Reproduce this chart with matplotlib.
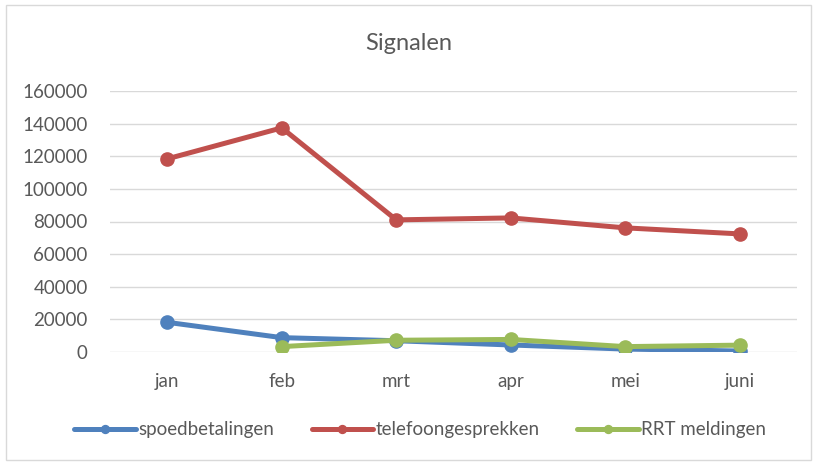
import matplotlib.pyplot as plt
import numpy as np
from matplotlib.patches import Rectangle

months = ["jan", "feb", "mrt", "apr", "mei", "juni"]
spoedbetalingen = [18200, 8800, 6900, 4300, 1800, 600]
telefoongesprekken = [118400, 137400, 81000, 82200, 76100, 72400]
rrt_meldingen = [np.nan, 3300, 7200, 7700, 3300, 4200]
yticks = list(range(0, 160001, 20000))

plt.rcParams["font.family"] = ["Lato", "DejaVu Sans"]
TXT = "#595959"

fig = plt.figure(figsize=(8.17, 4.62), dpi=100)
ax = fig.add_axes([110 / 817, 110 / 462, 687 / 817, 261 / 462])

x = np.arange(len(months))
series = [
    ("spoedbetalingen", spoedbetalingen, "#4f81bd"),
    ("telefoongesprekken", telefoongesprekken, "#c0504d"),
    ("RRT meldingen", rrt_meldingen, "#9bbb59"),
]
for name, vals, col in series:
    ax.plot(x, vals, color=col, lw=3.6, marker="o", ms=9.5, label=name,
            solid_capstyle="round", zorder=3)

ax.set_xlim(-0.5, len(months) - 0.5)
ax.set_ylim(0, 160000)
ax.set_yticks(yticks)
ax.set_yticklabels([str(v) for v in yticks])
ax.set_xticks(x)
ax.set_xticklabels(months)
ax.grid(axis="y", color="#d9d9d9", lw=1)
ax.set_axisbelow(True)
for s in ax.spines.values():
    s.set_visible(False)
ax.tick_params(length=0, colors=TXT, labelsize=13.5)
ax.tick_params(axis="y", pad=16)
ax.tick_params(axis="x", pad=15)

fig.text(0.5, 1 - 44 / 462, "Signalen", ha="center", va="center",
         fontsize=17, color=TXT)
leg = fig.legend(loc="center", bbox_to_anchor=(420 / 817, 1 - 430 / 462), ncol=3,
                 frameon=False, fontsize=13.5, handlelength=3.3,
                 columnspacing=2.0, handletextpad=0.1, markerscale=0.6)
for t in leg.get_texts():
    t.set_color(TXT)

fig.patches.append(Rectangle((6 / 817, 2 / 462), 805 / 817, 455 / 462,
                             transform=fig.transFigure, fill=False,
                             edgecolor="#d9d9d9", lw=1))

fig.savefig("out.png", dpi=100)
